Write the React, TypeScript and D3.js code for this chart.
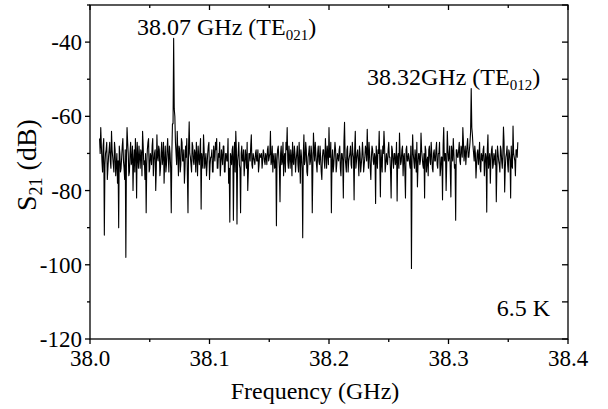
import React from "react";
import * as d3 from "d3";

const freqStart = 38.008;
const freqStep = 0.001;
// samples at 38.008, 38.009, ... 38.358 GHz
const s21Values: number[] = [
  -66, -63, -72, -68, -92, -70, -67, -74, -69, -72,
  -64, -71, -75, -69, -73, -78, -90, -70, -74, -68,
  -72, -77, -98, -63, -70, -75, -67, -72, -80, -69,
  -66, -82, -71, -68, -74, -70, -64, -73, -77, -86,
  -69, -66, -74, -71, -68, -76, -70, -80, -65, -72,
  -69, -74, -67, -71, -78, -68, -73, -66, -75, -70,
  -86, -62, -39, -60, -70, -64, -76, -69, -73, -67,
  -72, -78, -68, -66, -86, -61.5, -71, -75, -68, -73,
  -70, -67, -76, -71, -69, -85, -72, -65, -74, -70,
  -73, -68, -77, -71, -69, -75, -70, -67, -66, -74,
  -71, -76, -69, -73, -68, -75, -70, -72, -78, -88.5,
  -71, -69, -88, -67, -64, -89, -70, -73, -86, -68,
  -72, -76, -69, -74, -80, -70, -72, -65, -74, -71,
  -73, -69, -72, -75, -70, -71, -74, -69, -72, -70,
  -73, -68, -71, -64, -72, -75, -70, -73, -89.5, -69,
  -71, -83, -68, -72, -76, -70, -67, -63, -74, -71,
  -69, -76, -72, -68, -75, -70, -73, -67, -78, -71,
  -92.7, -65, -72, -69, -76, -70, -73, -68, -86, -64.5,
  -72, -70, -75, -68, -73, -71, -77, -69, -72, -66,
  -74, -70, -63, -71, -86, -69, -73, -67, -75, -70,
  -72, -68, -76, -70, -82, -61.6, -73, -69, -75, -71,
  -68, -74, -70, -82.5, -64, -72, -69, -76, -70, -73,
  -67, -75, -71, -69, -63.5, -74, -70, -77, -68, -72,
  -70, -83.5, -71, -69, -64, -81.7, -72, -68, -64, -75,
  -70, -73, -67, -71, -82, -69, -74, -70, -72, -82.8,
  -70, -64.5, -73, -69, -76, -70, -82, -68, -72, -71,
  -74, -101, -65, -72, -69, -75, -79, -70, -73, -64.5,
  -71, -74, -82, -69, -72, -76, -68, -73, -70, -75,
  -69, -72, -67, -74, -70, -76, -71, -82.5, -63, -70,
  -80, -64, -72, -68, -81.7, -70, -66, -74, -88, -69,
  -71, -67, -73, -69, -63, -72, -68, -70, -66, -71,
  -67, -52.5, -65, -70, -68, -76.6, -70, -73, -67, -75,
  -71, -69, -76, -70, -85.8, -65, -72, -78, -69, -74,
  -70, -73, -83, -68, -72, -75, -69, -74, -62.9, -80.4,
  -71, -68, -75, -70, -82, -73, -62.6, -71, -76, -69,
  -67,
];
// samples halfway between: 38.0085, 38.0095, ... 38.3575 GHz
const s21HalfValues: number[] = [
  -70, -68, -75, -66, -73, -69, -77, -71, -67, -74,
  -69, -73, -67, -76, -70, -72, -68, -75, -71, -66,
  -74, -69, -71, -67, -76, -70, -73, -68, -72, -75,
  -70, -67, -74, -71, -69, -76, -68, -72, -70, -73,
  -67, -75, -70, -73, -66, -72, -69, -74, -71, -68,
  -76, -70, -73, -67, -72, -75, -69, -71, -68, -74,
  -70, -62, -58, -67, -73, -70, -68, -75, -66, -72,
  -69, -74, -71, -76, -68, -70, -73, -67, -72, -69,
  -75, -71, -68, -73, -66, -70, -74, -69, -72, -76,
  -70, -67, -73, -71, -75, -68, -72, -69, -74, -70,
  -67, -73, -71, -68, -75, -70, -72, -66, -74, -70,
  -73, -68, -71, -75, -69, -72, -67, -74, -70, -72,
  -69, -73, -71, -67, -75, -70, -68, -73, -70, -72,
  -70, -72, -69, -73, -71, -70, -72, -70, -73, -71,
  -69, -72, -70, -73, -68, -71, -74, -70, -72, -68,
  -74, -70, -73, -67, -71, -75, -69, -72, -68, -74,
  -71, -67, -73, -70, -72, -68, -75, -71, -69, -74,
  -70, -73, -67, -75, -71, -68, -72, -70, -74, -69,
  -67, -73, -70, -72, -68, -75, -71, -69, -74, -70,
  -68, -73, -71, -67, -72, -75, -70, -69, -73, -71,
  -69, -74, -70, -72, -67, -71, -75, -68, -72, -70,
  -73, -67, -71, -69, -74, -70, -72, -68, -75, -71,
  -70, -73, -68, -72, -70, -67, -74, -71, -69, -73,
  -71, -68, -74, -70, -72, -69, -75, -70, -68, -73,
  -72, -69, -71, -75, -68, -72, -70, -73, -67, -71,
  -74, -70, -72, -68, -71, -75, -69, -72, -70, -73,
  -68, -72, -70, -74, -71, -67, -73, -70, -72, -69,
  -73, -70, -68, -75, -71, -69, -72, -67, -74, -70,
  -72, -69, -73, -70, -67, -74, -71, -68, -72, -70,
  -73, -69, -71, -75, -68, -72, -70, -73, -69, -71,
  -69, -72, -68, -71, -67, -70, -73, -68, -71, -69,
  -64, -63, -68, -72, -70, -73, -69, -71, -74, -70,
  -72, -68, -73, -71, -69, -74, -70, -72, -68, -73,
  -71, -69, -74, -70, -73, -68, -72, -70, -67, -74,
  -70, -73, -69, -72, -68, -74, -70, -72, -69, -71,
];

const xTicks = [38.0, 38.1, 38.2, 38.3, 38.4];
const xTickLabels = ["38.0", "38.1", "38.2", "38.3", "38.4"];
const xMinorTicks = [38.05, 38.15, 38.25, 38.35];
const yTicks = [-120, -100, -80, -60, -40];
const yTickLabels = ["-120", "-100", "-80", "-60", "-40"];
const yMinorTicks = [-110, -90, -70, -50, -30];

const FONT = "'Liberation Serif', 'Times New Roman', serif";

type Pt = { f: number; v: number };

export default function App() {
  const W = 608, H = 409;
  const left = 90, right = 568, top = 5, bottom = 339;
  const x = d3.scaleLinear().domain([38.0, 38.4]).range([left, right]);
  const y = d3.scaleLinear().domain([-120, -30]).range([bottom, top]);
  const data: Pt[] = [];
  s21Values.forEach((v, i) => {
    data.push({ f: freqStart + i * freqStep, v });
    if (i < s21HalfValues.length) {
      data.push({ f: freqStart + (i + 0.5) * freqStep, v: s21HalfValues[i] });
    }
  });
  const line = d3
    .line<Pt>()
    .x((d) => x(d.f))
    .y((d) => y(d.v));

  const axisStroke = 1.3;
  return (
    <svg
      width={W}
      height={H}
      style={{ position: "absolute", left: 0, top: 0, background: "#fff" }}
      fontFamily={FONT}
    >
      <rect x={0} y={0} width={W} height={H} fill="#fff" />
      <path d={line(data) || ""} fill="none" stroke="#000" strokeWidth={1.1} strokeLinejoin="round" />
      <rect x={left} y={top} width={right - left} height={bottom - top} fill="none" stroke="#000" strokeWidth={axisStroke} />
      {yTicks.map((t) => (
        <line key={"yl" + t} x1={left - 5} x2={left} y1={y(t)} y2={y(t)} stroke="#000" strokeWidth={axisStroke} />
      ))}
      {yMinorTicks.map((t) => (
        <line key={"yml" + t} x1={left - 3} x2={left} y1={y(t)} y2={y(t)} stroke="#000" strokeWidth={axisStroke} />
      ))}
      {yTicks.concat(yMinorTicks).map((t) => (
        <line key={"yr" + t} x1={right - 6} x2={right} y1={y(t)} y2={y(t)} stroke="#000" strokeWidth={axisStroke} />
      ))}
      {xTicks.map((t) => (
        <line key={"xb" + t} x1={x(t)} x2={x(t)} y1={bottom} y2={bottom + 5} stroke="#000" strokeWidth={axisStroke} />
      ))}
      {xMinorTicks.map((t) => (
        <line key={"xmb" + t} x1={x(t)} x2={x(t)} y1={bottom} y2={bottom + 3} stroke="#000" strokeWidth={axisStroke} />
      ))}
      {xTicks.map((t) => (
        <line key={"xt" + t} x1={x(t)} x2={x(t)} y1={top} y2={top + 5} stroke="#000" strokeWidth={axisStroke} />
      ))}
      {xMinorTicks.map((t) => (
        <line key={"xmt" + t} x1={x(t)} x2={x(t)} y1={top} y2={top + 3} stroke="#000" strokeWidth={axisStroke} />
      ))}
      {yTicks.map((t, i) => (
        <text key={"ylab" + t} x={left - 8} y={y(t)} dy="0.35em" textAnchor="end" fontSize={23} fill="#000">
          {yTickLabels[i]}
        </text>
      ))}
      {xTicks.map((t, i) => (
        <text key={"xlab" + t} x={x(t)} y={366} textAnchor="middle" fontSize={23} fill="#000">
          {xTickLabels[i]}
        </text>
      ))}
      <text x={(left + right) / 2 - 14} y={399} textAnchor="middle" fontSize={24} fill="#000">
        Frequency (GHz)
      </text>
      <text transform={`translate(36,165) rotate(-90)`} textAnchor="middle" fontSize={28} fill="#000">
        S<tspan fontSize={18} dy={6}>21</tspan>
        <tspan dy={-6}> (dB)</tspan>
      </text>
      <text x={137} y={35} fontSize={24} fill="#000">
        38.07 GHz (TE<tspan fontSize={15} dy={5}>021</tspan>
        <tspan dy={-5}>)</tspan>
      </text>
      <text x={367} y={85} fontSize={24} fill="#000">
        38.32GHz (TE<tspan fontSize={15} dy={5}>012</tspan>
        <tspan dy={-5}>)</tspan>
      </text>
      <text x={550} y={316} textAnchor="end" fontSize={24} fill="#000">
        6.5 K
      </text>
    </svg>
  );
}
